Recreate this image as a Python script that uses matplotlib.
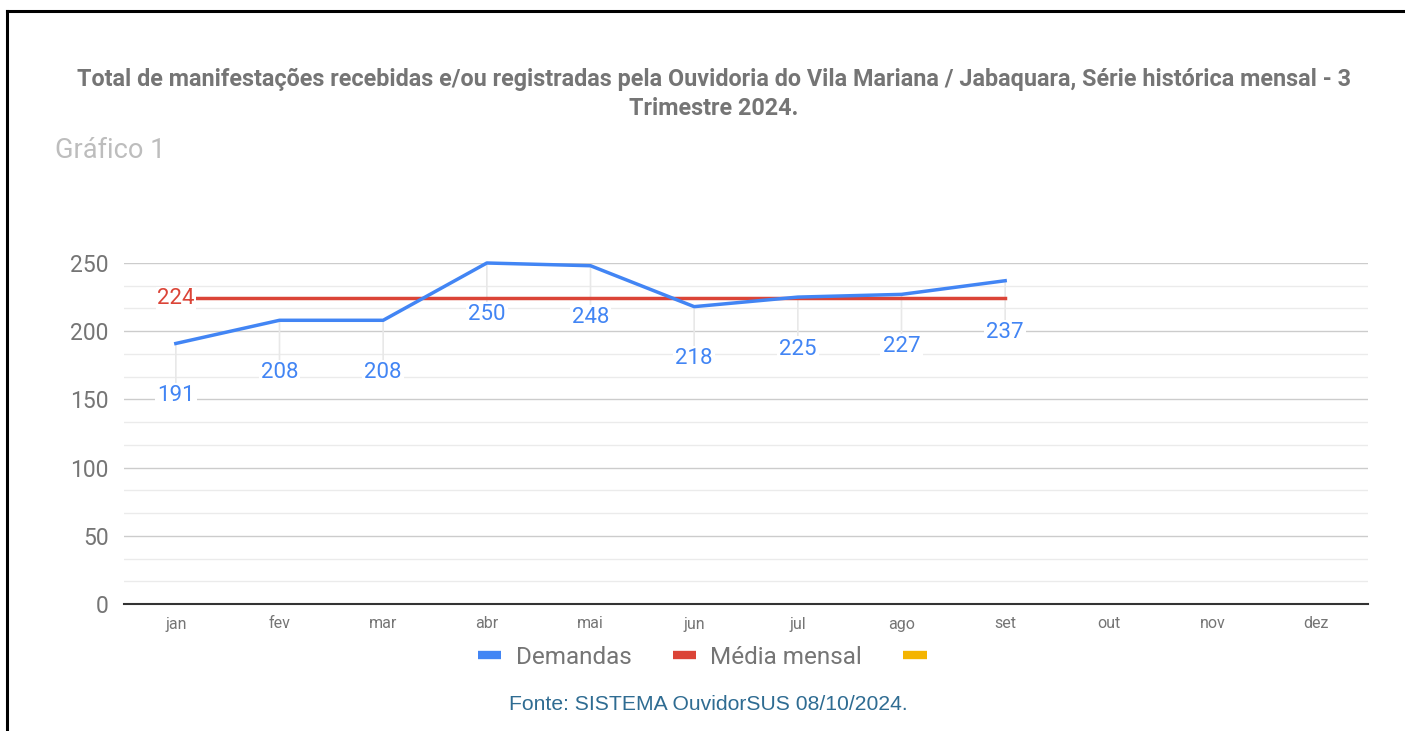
import numpy as np
import matplotlib
matplotlib.use("Agg")
import matplotlib.pyplot as plt
from matplotlib.lines import Line2D
from matplotlib.ticker import MultipleLocator

# --- data ---
months = ["jan", "fev", "mar", "abr", "mai", "jun", "jul", "ago", "set", "out", "nov", "dez"]
demandas = [191, 208, 208, 250, 248, 218, 225, 227, 237]
media_mensal = [224] * 9

title = ("Total de manifestações recebidas e/ou registradas pela Ouvidoria do Vila Mariana / Jabaquara, "
         "Série histórica mensal - 3\nTrimestre 2024.")
source = "Fonte: SISTEMA OuvidorSUS 08/10/2024."

BLUE = "#4285F4"
RED = "#DB4437"
YELLOW = "#F4B400"
GRAY = "#757575"

plt.rcParams["font.family"] = ["Roboto", "DejaVu Sans"]

fig = plt.figure(figsize=(14.05, 7.31), dpi=100)
ax = fig.add_axes([124 / 1405, 1 - 604 / 731, 1244 / 1405, 341 / 731])

x = np.arange(len(months))
xd = x[:len(demandas)]

# --- gridlines ---
ax.set_ylim(0, 250)
ax.set_xlim(-0.5, len(months) - 0.5)
ax.yaxis.set_major_locator(MultipleLocator(50))
ax.yaxis.set_minor_locator(MultipleLocator(50 / 3))
ax.grid(True, which="major", axis="y", color="#cccccc", lw=1.0, zorder=0)
ax.grid(True, which="minor", axis="y", color="#ebebeb", lw=1.0, zorder=0)
for s in ["top", "right", "left"]:
    ax.spines[s].set_visible(False)
ax.spines["bottom"].set_color("#333333")
ax.spines["bottom"].set_linewidth(1.5)
ax.tick_params(axis="both", which="both", length=0)
ax.tick_params(axis="y", labelsize=16.5, labelcolor=GRAY, pad=11)
ax.tick_params(axis="x", labelsize=11.5, labelcolor=GRAY, pad=9)
ax.set_xticks(x)
ax.set_xticklabels(months)

# --- series ---
ax.plot(xd, media_mensal, color=RED, lw=2.5, zorder=3, clip_on=False)
ax.plot(xd, demandas, color=BLUE, lw=2.5, zorder=4, clip_on=False)

# data labels with stems
off = 52 * 0.72
for xi, v in zip(xd, demandas):
    ax.annotate("", xy=(xi, v), xytext=(0, -off + 9), textcoords="offset points",
                arrowprops=dict(arrowstyle="-", color="#e8e8e8", lw=1.2, shrinkA=0, shrinkB=0),
                zorder=2)
    ax.annotate(str(v), xy=(xi, v), xytext=(0, -off), textcoords="offset points",
                ha="center", va="center", fontsize=16, color=BLUE, zorder=5,
                bbox=dict(boxstyle="square,pad=0.1", fc="white", ec="none"))
ax.annotate(str(media_mensal[0]), xy=(xd[0], media_mensal[0]), ha="center", va="center",
            fontsize=16, color=RED, zorder=6,
            bbox=dict(boxstyle="square,pad=0.05", fc="white", ec="none"))

# --- legend ---
handles = [
    Line2D([0], [0], color=BLUE, lw=6, solid_capstyle="butt", label="Demandas"),
    Line2D([0], [0], color=RED, lw=6, solid_capstyle="butt", label="Média mensal"),
    Line2D([0], [0], color=YELLOW, lw=6, solid_capstyle="butt", label=""),
]
leg = fig.legend(handles=handles, loc="center", bbox_to_anchor=(0.505, 1 - 657 / 731),
                 ncol=3, frameon=False, fontsize=17.5, handlelength=0.95, handletextpad=0.6,
                 columnspacing=1.7)
for t in leg.get_texts():
    t.set_color(GRAY)

# --- texts ---
fig.text(0.508, 1 - 94 / 731, title, ha="center", va="center", fontsize=16.8,
         fontweight="bold", color=GRAY, linespacing=1.33)
fig.text(55 / 1405, 1 - 151 / 731, "Gráfico 1", ha="left", va="center", fontsize=19.5,
         color="#bdbdbd")
fig.text(708 / 1405, 1 - 705 / 731, source, ha="center", va="center", fontsize=15.2,
         color="#2F6C92", family=["Liberation Sans", "DejaVu Sans"])

# --- page border (left and top) ---
fig.add_artist(Line2D([7 / 1405, 7 / 1405], [0, 1 - 11 / 731], color="black", lw=2.2,
                      transform=fig.transFigure))
fig.add_artist(Line2D([7 / 1405, 1], [1 - 11 / 731, 1 - 11 / 731], color="black", lw=2.2,
                      transform=fig.transFigure))

fig.savefig("out.png", dpi=100)
